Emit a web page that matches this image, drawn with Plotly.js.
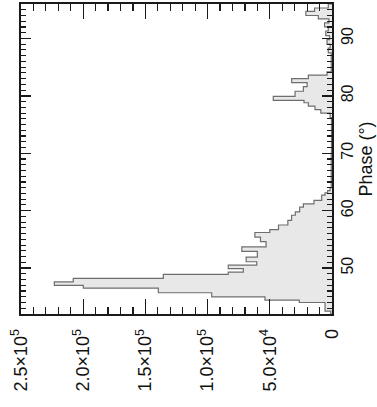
<!DOCTYPE html>
<html>
<head>
<meta charset="utf-8">
<script src="https://cdn.plot.ly/plotly-3.0.1.min.js"></script>
<style>
html, body { margin: 0; padding: 0; background: #ffffff; }
#chart { width: 377px; height: 407px; }
</style>
</head>
<body>
<div id="chart"></div>
<script>
// Histogram bin edges (phase, degrees) and counts per bin
const phaseEdges = [42.0, 42.5, 44.0, 44.4, 45.0, 45.7, 46.5, 47.0, 47.6, 48.2, 48.9, 49.3, 49.9, 50.5, 51.1, 51.9, 52.9, 53.7, 54.6, 55.4, 56.2, 56.7, 57.5, 58.3, 59.2, 59.8, 60.6, 61.2, 61.8, 62.7, 63.1, 63.5, 64.0, 70.0, 76.2, 77.0, 77.6, 78.2, 78.8, 79.2, 79.9, 80.8, 81.6, 82.3, 83.0, 83.6, 84.2, 87.5, 88.3, 89.0, 89.8, 90.5, 91.3, 92.0, 92.7, 93.4, 94.0, 94.7, 95.3, 96.0];
const counts = [1000, 5600, 26300, 53900, 96700, 139600, 199900, 223200, 208000, 135600, 83400, 71300, 83400, 60500, 69000, 60000, 72500, 53000, 57500, 62000, 50000, 43000, 35500, 32500, 29500, 26000, 23000, 14500, 8300, 5600, 3500, 1500, 600, 400, 1500, 9000, 13700, 19000, 22500, 47200, 29700, 23000, 20000, 32400, 19000, 4000, 600, 3000, 1500, 4000, 2000, 5000, 3000, 6000, 2500, 11000, 21000, 14000, 3000];

// Axis ticks
const countTickVals = [0, 50000, 100000, 150000, 200000, 250000];
const countTickText = ['0', '5.0\u00d710<sup>4</sup>', '1.0\u00d710<sup>5</sup>', '1.5\u00d710<sup>5</sup>', '2.0\u00d710<sup>5</sup>', '2.5\u00d710<sup>5</sup>'];
const phaseTickVals = [50, 60, 70, 80, 90];
const phaseTickText = ['50', '60', '70', '80', '90'];
const phaseTitle = 'Phase (\u00b0)';

// Build step outline (vertical-then-horizontal) from bins
const xs = [0];
const ys = [phaseEdges[0]];
for (let i = 0; i < counts.length; i++) {
  xs.push(counts[i]);
  ys.push(phaseEdges[i]);
}
xs.push(counts[counts.length - 1]);
ys.push(phaseEdges[phaseEdges.length - 1]);
xs.push(0);
ys.push(phaseEdges[phaseEdges.length - 1]);

const trace = {
  type: 'scatter',
  mode: 'lines',
  x: xs,
  y: ys,
  line: { shape: 'vh', color: '#6e6e6e', width: 1.2 },
  fill: 'tozerox',
  fillcolor: '#e8e8e8',
  hoverinfo: 'skip'
};

const axisColor = '#1a1a1a';
const layout = {
  width: 377,
  height: 407,
  margin: { l: 21, r: 45, t: 4, b: 93, pad: 0 },
  paper_bgcolor: '#ffffff',
  plot_bgcolor: '#ffffff',
  showlegend: false,
  font: { family: 'Liberation Sans, Arial, Helvetica, sans-serif', color: '#111111' },
  xaxis: {
    range: [250000, 0],
    tickmode: 'array',
    tickvals: countTickVals,
    ticktext: countTickText,
    tickangle: -90,
    ticks: 'inside',
    ticklen: 15,
    tickwidth: 1.3,
    tickcolor: axisColor,
    showline: true,
    linecolor: axisColor,
    linewidth: 1.8,
    mirror: 'ticks',
    showgrid: false,
    zeroline: false,
    tickfont: { size: 18 },
    ticklabelstandoff: 6,
    minor: { tickmode: 'linear', tick0: 0, dtick: 10000, ticks: 'inside', ticklen: 7, tickwidth: 1.2, tickcolor: axisColor, showgrid: false },
    fixedrange: true
  },
  yaxis: {
    range: [42, 96],
    side: 'right',
    tickmode: 'array',
    tickvals: phaseTickVals,
    ticktext: phaseTickText,
    tickangle: -90,
    ticks: 'inside',
    ticklen: 10,
    tickwidth: 1.3,
    tickcolor: axisColor,
    showline: true,
    linecolor: axisColor,
    linewidth: 1.8,
    mirror: 'ticks',
    showgrid: false,
    zeroline: false,
    tickfont: { size: 16 },
    minor: { tickmode: 'linear', tick0: 0, dtick: 1, ticks: 'inside', ticklen: 5, tickwidth: 1.1, tickcolor: axisColor, showgrid: false },
    title: { text: phaseTitle, font: { size: 18 }, standoff: 2 },
    fixedrange: true
  }
};

Plotly.newPlot('chart', [trace], layout, { staticPlot: true, displayModeBar: false });
</script>
</body>
</html>
